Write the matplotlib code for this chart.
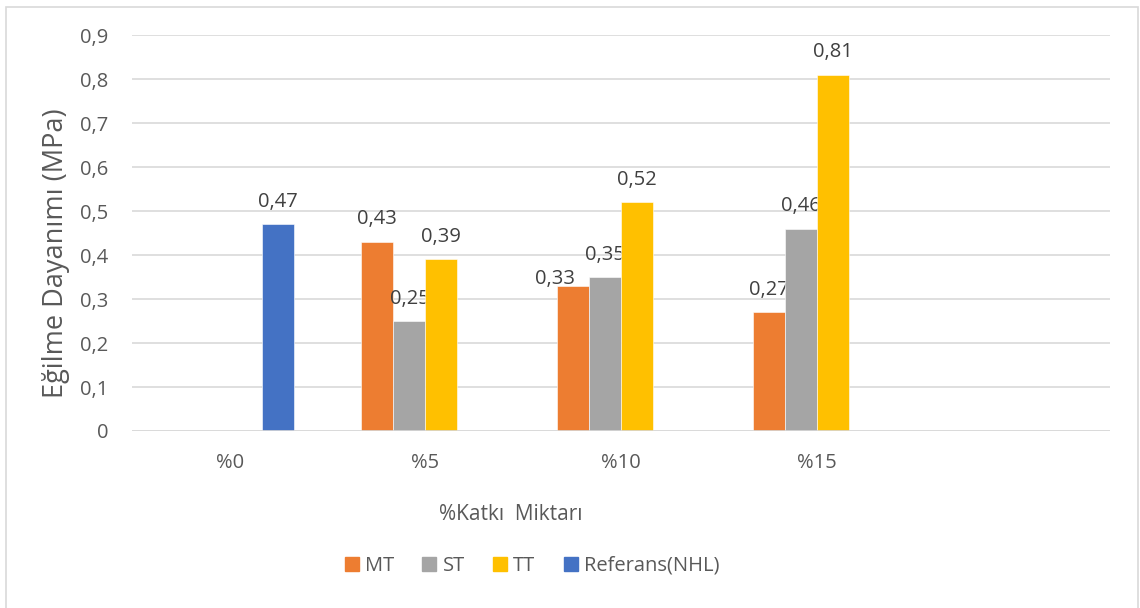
import numpy as np
import matplotlib
matplotlib.use('Agg')
import matplotlib.pyplot as plt
from matplotlib.patches import Rectangle

plt.rcParams['font.family'] = ['Open Sans', 'DejaVu Sans']

categories = ['%0', '%5', '%10', '%15', '']
series = ['MT', 'ST', 'TT', 'Referans(NHL)']
mt = [None, 0.43, 0.33, 0.27, None]
st = [None, 0.25, 0.35, 0.46, None]
tt = [None, 0.39, 0.52, 0.81, None]
ref = [0.47, None, None, None, None]
colors = ['#ED7D31', '#A5A5A5', '#FFC000', '#4472C4']

# label nudges (dx in category units, dy in data units) where Excel moved them
nudge = {('MT', 2): (-0.09, -0.035)}

txt = '#595959'
fig = plt.figure(figsize=(11.4, 6.08), dpi=100)
ax = fig.add_axes([132/1140, 1-431/608, 978/1140, 396/608])

w = 0.1636
x = np.arange(len(categories))
for k, (name, vals) in enumerate(zip(series, [mt, st, tt, ref])):
    off = (k - 1.5) * w
    for i, v in enumerate(vals):
        if v is None:
            continue
        ax.bar(x[i] + off, v, w, color=colors[k], edgecolor='white', linewidth=0.4, zorder=3)
        dx, dy = nudge.get((name, i), (0, 0))
        ax.text(x[i] + off + dx, v + 0.028 + dy, ('%.2f' % v).replace('.', ','),
                ha='center', va='bottom', fontsize=14.5, color='#404040')

ax.set_xlim(-0.5, 4.5)
ax.set_ylim(0, 0.9)
ax.set_yticks(np.arange(0, 0.91, 0.1))
ax.set_yticklabels(['0'] + [('%.1f' % t).replace('.', ',') for t in np.arange(0.1, 0.91, 0.1)])
ax.set_xticks(x[:4])
ax.set_xticklabels(categories[:4])
ax.tick_params(length=0, labelsize=14.5, colors=txt)
ax.tick_params(axis='x', pad=16)
ax.tick_params(axis='y', pad=17)
ax.grid(axis='y', color='#D9D9D9', linewidth=1.2, zorder=0)
for s in ax.spines.values():
    s.set_visible(False)
ax.axhline(0, color='#D9D9D9', linewidth=1.2, zorder=4)

fig.text(511/1140, 1-514/608, '%Katkı  Miktarı', ha='center', va='center', fontsize=15, color=txt)
fig.text(56/1140, 1-253/608, 'Eğilme Dayanımı (MPa)', ha='center', va='center',
         rotation=90, fontsize=19.5, color=txt)

handles = [Rectangle((0, 0), 1, 1, color=c) for c in colors]
fig.legend(handles, series, loc='center', bbox_to_anchor=(532/1140, 1-566/608), ncol=4,
           frameon=False, fontsize=14.5, labelcolor=txt, handlelength=0.7, handleheight=0.7,
           handletextpad=0.3, columnspacing=1.4)

# chart frame
fig.patches.append(Rectangle((6/1140, -0.01), 1132/1140, 1 - 7/608 + 0.01, transform=fig.transFigure,
                             fill=False, edgecolor='#D9D9D9', linewidth=1.2))

fig.savefig('out.png', dpi=100, facecolor='white')
